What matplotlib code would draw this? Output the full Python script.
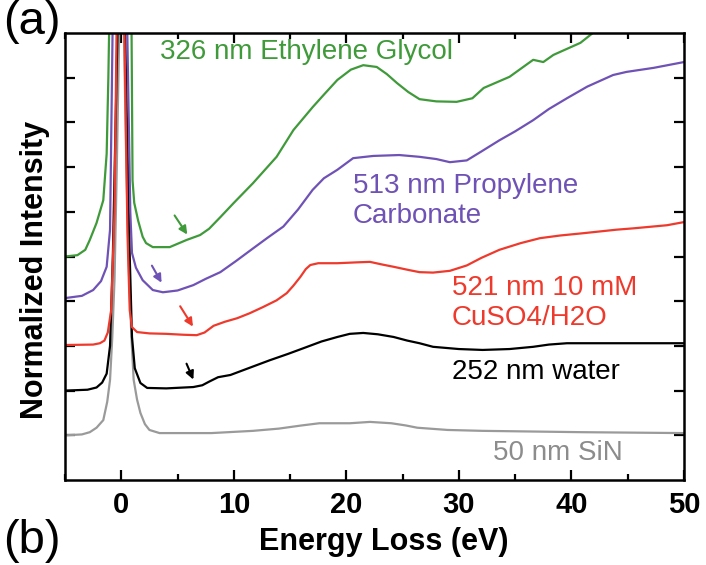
import numpy as np
import matplotlib
matplotlib.use("Agg")
import matplotlib.pyplot as plt

plt.rcParams['font.family'] = ['Liberation Sans', 'DejaVu Sans']

# spectra (each offset by 1 unit), energy in eV
e_sin = [-5, -3.5, -2.8, -2.2, -1.6, -1.25, -1.0, -0.8, -0.6, -0.4, -0.15, 0, 0.2, 0.45, 0.7, 0.9,
         1.1, 1.4, 1.7, 2.1, 2.5, 3.4, 8, 11.7, 14, 16, 17.6, 20.3, 22.1, 24, 25.3, 26.3, 29, 32.1, 41, 50]
i_sin = [1.0, 1.02, 1.07, 1.17, 1.34, 1.75, 2.24, 3.2, 4.5, 7.0, 10.5, 60, 10.5, 7.0, 4.5, 3.2,
         2.24, 1.8, 1.5, 1.25, 1.12, 1.05, 1.05, 1.1, 1.15, 1.22, 1.27, 1.27, 1.30, 1.27, 1.22, 1.17, 1.12,
         1.10, 1.07, 1.05]

e_water = [-5, -3, -2.2, -1.7, -1.3, -1.0, -0.75, -0.3, 0, 0.3, 0.75, 0.95, 1.2, 1.7, 2.3, 4, 6.4,
           7.2, 7.8, 8.2, 8.6, 9.7, 11.5, 13.2, 14.8, 16.2, 17.8, 19.2, 20.3, 21.5, 22.8, 24.2, 25.4,
           26.5, 27.7, 30, 32.1, 34.5, 36.6, 38, 39.6, 44, 50]
i_water = [2.0, 2.02, 2.07, 2.18, 2.38, 3.0, 5.0, 10.5, 60, 10.5, 5.0, 3.2, 2.5, 2.17, 2.06, 2.05, 2.08,
           2.12, 2.2, 2.25, 2.3, 2.35, 2.52, 2.68, 2.82, 2.95, 3.1, 3.2, 3.27, 3.29, 3.26, 3.2, 3.12,
           3.06, 2.98, 2.93, 2.91, 2.93, 2.98, 3.03, 3.06, 3.06, 3.06]

e_cuso4 = [-5, -2.5, -1.9, -1.5, -1.2, -0.9, -0.6, -0.4, 0, 0.25, 0.55, 0.75, 0.95, 1.4, 2.5, 4, 5.5,
           6.7, 7.4, 8.2, 9.2, 10.3, 11.4, 12.6, 13.8, 14.7, 15.3, 15.9, 16.4, 16.8, 17.5, 19.2, 21,
           22.1, 23.2, 24.2, 25.5, 26.5, 27.7, 29.2, 30.7, 32, 33.6, 35.5, 37.2, 39, 41, 44, 45.5,
           48.5, 50]
i_cuso4 = [3.02, 3.03, 3.06, 3.12, 3.3, 3.8, 6.0, 10.5, 60, 10.5, 5.5, 3.8, 3.42, 3.31, 3.28, 3.27, 3.25,
           3.24, 3.3, 3.45, 3.54, 3.62, 3.73, 3.87, 4.02, 4.18, 4.35, 4.54, 4.72, 4.81, 4.85, 4.85, 4.87,
           4.88, 4.82, 4.77, 4.70, 4.65, 4.64, 4.68, 4.8, 4.97, 5.15, 5.3, 5.41, 5.47, 5.52, 5.6, 5.63,
           5.7, 5.77]

e_pc = [-5, -3.5, -2.5, -1.8, -1.3, -1.0, -0.75, 0, 0.5, 0.8, 0.95, 1.3, 1.9, 2.8, 3.7, 5, 6.4, 7.5,
        8.8, 10.2, 11.7, 13, 14.4, 15.7, 17, 18, 19.2, 20.6, 22.4, 24.7, 26.5, 28, 29.2, 30.7, 32,
        33.6, 35, 36.6, 38, 39.6, 41.4, 43.7, 44.9, 47.3, 50]
i_pc = [4.07, 4.12, 4.25, 4.45, 4.77, 5.6, 10.5, 60, 10.5, 6.0, 5.08, 4.75, 4.47, 4.25, 4.2, 4.24, 4.36, 4.5,
        4.65, 4.9, 5.18, 5.42, 5.67, 6.05, 6.49, 6.75, 6.94, 7.2, 7.25, 7.27, 7.23, 7.18, 7.11, 7.15, 7.35,
        7.6, 7.8, 8.05, 8.3, 8.54, 8.8, 9.06, 9.13, 9.22, 9.35]

e_eg = [-5, -3.9, -3.2, -2.8, -2.2, -1.6, -1.3, -1.15, -1.05, 0, 0.9, 1.0, 1.15, 1.5, 1.9, 2.2, 2.8,
        4.3, 5.8, 7.0, 7.8, 8.8, 10, 11.7, 13.8, 15.3, 17, 18, 19.2, 20.4, 21.5, 22.7, 23.6, 24.5,
        25.5, 26.5, 28, 29.8, 31.2, 32.2, 34.5, 36.6, 37.5, 38.4, 40.8, 41.9, 45, 50]
i_eg = [5.0, 5.03, 5.15, 5.37, 5.75, 6.26, 7.3, 9.0, 10.5, 60, 10.5, 6.7, 6.2, 5.8, 5.44, 5.3, 5.21,
        5.21, 5.37, 5.48, 5.62, 5.88, 6.2, 6.64, 7.23, 7.83, 8.34, 8.62, 8.95, 9.18, 9.28, 9.24, 9.08, 8.88,
        8.68, 8.52, 8.47, 8.46, 8.54, 8.77, 9.02, 9.40, 9.35, 9.51, 9.78, 10.0, 10.5, 11.0]

c_green = '#3f9a3a'
c_purple = '#6f52b5'
c_red = '#ee3a2c'
c_gray = '#9a9a9a'

fig = plt.figure(figsize=(7.06, 5.65), dpi=100)
ax = fig.add_axes([0.0921, 0.1504, 0.8767, 0.7912])

ax.plot(e_sin, i_sin, color=c_gray, lw=1.6)
ax.plot(e_water, i_water, color='black', lw=1.6)
ax.plot(e_cuso4, i_cuso4, color=c_red, lw=1.6)
ax.plot(e_pc, i_pc, color=c_purple, lw=1.6)
ax.plot(e_eg, i_eg, color=c_green, lw=1.6)

# onset arrows
arrows = [((4.6, 5.97), (6.0, 5.44), c_green),
          ((2.6, 4.85), (3.7, 4.36), c_purple),
          ((5.1, 3.94), (6.5, 3.38), c_red),
          ((5.7, 2.66), (6.5, 2.19), 'black')]
for start, end, col in arrows:
    ax.annotate('', xy=end, xytext=start,
                arrowprops=dict(arrowstyle='-|>', color=col, lw=1.5, mutation_scale=12))

ax.text(3.44, 9.57, '326 nm Ethylene Glycol', color=c_green, fontsize=20, va='center')
ax.text(20.57, 6.24, '513 nm Propylene\nCarbonate', color=c_purple, fontsize=20, va='center',
        linespacing=1.2)
ax.text(29.38, 3.96, '521 nm 10 mM\nCuSO4/H2O', color=c_red, fontsize=20, va='center',
        linespacing=1.2)
ax.text(29.38, 2.42, '252 nm water', color='black', fontsize=20, va='center')
ax.text(44.6, 0.6, '50 nm SiN', color='#8c8c8c', fontsize=20, va='center', ha='right')

ax.set_xlim(-5, 50)
ax.set_ylim(0, 10)
ax.set_xticks([0, 10, 20, 30, 40, 50])
ax.set_xticks([-5, 5, 15, 25, 35, 45], minor=True)
ax.set_yticks(range(1, 10))
ax.set_yticklabels([])
ax.tick_params(which='both', direction='in', top=True, right=True, width=1.6, pad=8)
ax.tick_params(which='major', length=7, labelsize=21)
ax.tick_params(which='minor', length=4)
for lbl in ax.get_xticklabels():
    lbl.set_fontweight('bold')
for sp in ax.spines.values():
    sp.set_linewidth(1.8)

ax.set_xlabel('Energy Loss (eV)', fontsize=22, fontweight='bold')
ax.set_ylabel('Normalized Intensity', fontsize=22, fontweight='bold')
ax.xaxis.set_label_coords(0.515, -0.105)
ax.yaxis.set_label_coords(-0.025, 0.47)

fig.text(0.005, 1.0, '(a)', fontsize=34, va='top', ha='left')
fig.text(0.005, 0.004, '(b)', fontsize=34, va='bottom', ha='left')

fig.savefig('out.png', dpi=100)
